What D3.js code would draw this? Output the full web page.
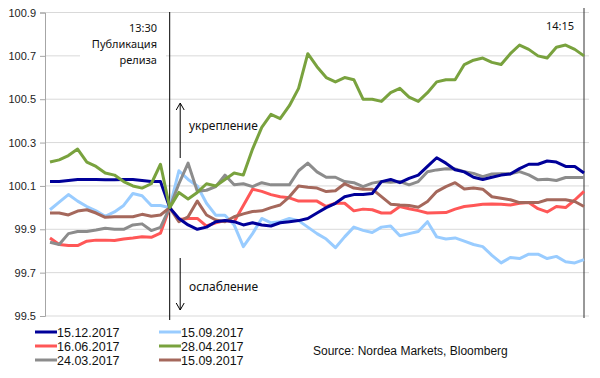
<!DOCTYPE html>
<html>
<head>
<meta charset="utf-8">
<script src="https://cdn.jsdelivr.net/npm/d3@7"></script>
<style>
  body { margin: 0; background: #fff; }
  svg { display: block; }
  .tick text { font-family: "Liberation Sans", Arial, sans-serif; font-size: 11px; fill: #222; }
  .note { font-family: "Noto Sans", sans-serif; font-size: 11px; fill: #111; }
  .legend text { font-family: "Liberation Sans", Arial, sans-serif; font-size: 12.5px; fill: #111; }
</style>
</head>
<body>
<div id="chart"></div>
<script>
// minutes relative to the 13:30 release (13:17 ... 14:15)
const minutes = d3.range(-13, 46);

const dec2017 = [100.12, 100.12, 100.125, 100.13, 100.13, 100.13, 100.128, 100.128, 100.13, 100.13, 100.125, 100.12, 100.12,
  100.00, 99.95, 99.92, 99.90, 99.91, 99.935, 99.94, 99.935, 99.92, 99.93, 99.92, 99.915, 99.93, 99.935, 99.94, 99.95,
  99.975, 100.00, 100.02, 100.05, 100.06, 100.06, 100.065, 100.12, 100.13, 100.115, 100.135, 100.15, 100.19, 100.23,
  100.205, 100.175, 100.165, 100.14, 100.13, 100.14, 100.15, 100.155, 100.18, 100.20, 100.20, 100.215, 100.21, 100.19,
  100.19, 100.16];

const sep2017a = [99.99, 100.025, 100.06, 100.03, 100.005, 99.985, 99.96, 99.98, 100.01, 100.065, 100.055, 100.01, 100.01,
  100.00, 100.17, 100.13, 100.10, 100.02, 99.965, 99.965, 99.92, 99.82, 99.88, 99.95, 99.93, 99.935, 99.95, 99.94, 99.91,
  99.88, 99.855, 99.815, 99.865, 99.91, 99.895, 99.885, 99.91, 99.915, 99.87, 99.88, 99.89, 99.935, 99.865, 99.855, 99.86,
  99.845, 99.83, 99.82, 99.78, 99.745, 99.77, 99.765, 99.785, 99.785, 99.765, 99.775, 99.75, 99.745, 99.76];

const jun2017 = [99.86, 99.83, 99.825, 99.825, 99.845, 99.85, 99.85, 99.848, 99.855, 99.86, 99.866, 99.863, 99.882,
  100.00, 99.945, 99.95, 99.95, 99.915, 99.93, 99.94, 99.935, 100.01, 100.085, 100.075, 100.06, 100.05, 100.045, 100.03,
  100.03, 100.03, 100.005, 100.02, 100.02, 99.985, 99.993, 99.99, 99.975, 99.975, 100.005, 99.995, 99.986, 99.975, 99.976,
  99.977, 99.993, 100.005, 100.01, 100.015, 100.017, 100.015, 100.012, 100.02, 100.023, 99.995, 99.98, 100.005, 100.0,
  100.035, 100.075];

const apr2017 = [100.21, 100.22, 100.24, 100.27, 100.21, 100.19, 100.16, 100.15, 100.12, 100.10, 100.09, 100.11, 100.20,
  100.00, 100.07, 100.04, 100.07, 100.11, 100.10, 100.13, 100.16, 100.15, 100.27, 100.37, 100.43, 100.41, 100.47, 100.55,
  100.71, 100.65, 100.60, 100.58, 100.60, 100.59, 100.50, 100.50, 100.49, 100.53, 100.55, 100.51, 100.49, 100.53, 100.58,
  100.59, 100.59, 100.66, 100.68, 100.69, 100.67, 100.66, 100.71, 100.75, 100.73, 100.70, 100.69, 100.74, 100.75, 100.73,
  100.70];

const mar2017 = [99.84, 99.83, 99.88, 99.89, 99.89, 99.897, 99.905, 99.90, 99.90, 99.92, 99.925, 99.894, 99.909,
  100.0, 100.11, 100.205, 100.075, 100.08, 100.097, 100.15, 100.105, 100.11, 100.097, 100.115, 100.105, 100.105, 100.105,
  100.17, 100.205, 100.165, 100.14, 100.14, 100.12, 100.115, 100.097, 100.113, 100.12, 100.117, 100.12, 100.105, 100.12,
  100.165, 100.174, 100.179, 100.178, 100.166, 100.158, 100.143, 100.155, 100.156, 100.156, 100.166, 100.151, 100.128,
  100.131, 100.125, 100.139, 100.139, 100.139];

const sep2017b = [99.975, 99.975, 99.966, 99.984, 99.99, 99.975, 99.955, 99.958, 99.958, 99.958, 99.969, 99.96, 99.966,
  100.0, 99.935, 99.958, 100.03, 99.966, 99.943, 99.935, 99.958, 99.971, 99.982, 99.985, 100.0, 100.012, 100.05, 100.10,
  100.094, 100.09, 100.074, 100.078, 100.11, 100.09, 100.085, 100.085, 100.051, 100.016, 100.012, 100.01, 100.002, 100.028,
  100.074, 100.097, 100.115, 100.086, 100.09, 100.085, 100.05, 100.043, 100.036, 100.023, 100.023, 100.023, 100.036,
  100.036, 100.036, 100.028, 100.005];

const yTicks = [99.5, 99.7, 99.9, 100.1, 100.3, 100.5, 100.7, 100.9];

const series = [
  { name: "15.09.2017", values: sep2017a, color: "#99ccff", col: 1, row: 0 },
  { name: "16.06.2017", values: jun2017, color: "#ff5757", col: 0, row: 1 },
  { name: "24.03.2017", values: mar2017, color: "#8c8c8c", col: 0, row: 2 },
  { name: "15.09.2017", values: sep2017b, color: "#a5685c", col: 1, row: 2 },
  { name: "15.12.2017", values: dec2017, color: "#000099", col: 0, row: 0 },
  { name: "28.04.2017", values: apr2017, color: "#79a23e", col: 1, row: 1 }
];

const W = 600, H = 378;
const svg = d3.select("#chart").append("svg")
  .attr("width", W)
  .attr("height", H);

const x = d3.scaleLinear().domain([-13, 45]).range([50, 584]);
const y = d3.scaleLinear().domain([99.5, 100.9]).range([316, 12.5]);

// gridlines
svg.append("g")
  .selectAll("line")
  .data(yTicks)
  .join("line")
  .attr("x1", 45).attr("x2", 589)
  .attr("y1", d => y(d)).attr("y2", d => y(d))
  .attr("stroke", "#d9d9d9")
  .attr("stroke-width", 1);

// y axis
const yAxis = svg.append("g")
  .attr("transform", "translate(45,0)")
  .call(d3.axisLeft(y).tickValues(yTicks).tickSize(5).tickPadding(4).tickFormat(d3.format(".1f")));
yAxis.select(".domain").attr("stroke", "#a6a6a6");
yAxis.selectAll(".tick line").attr("stroke", "#a6a6a6");

// white box behind the release note
svg.append("rect")
  .attr("x", 80).attr("y", 16).attr("width", 86).attr("height", 54)
  .attr("fill", "#fff");

// vertical markers
svg.append("line")
  .attr("x1", x(0)).attr("x2", x(0))
  .attr("y1", 12).attr("y2", 320)
  .attr("stroke", "#000").attr("stroke-width", 1);
svg.append("line")
  .attr("x1", x(45)).attr("x2", x(45))
  .attr("y1", 8).attr("y2", 318)
  .attr("stroke", "#333").attr("stroke-width", 1);

// lines
const line = d3.line()
  .x((d, i) => x(minutes[i]))
  .y(d => y(d));

svg.append("g")
  .selectAll("path")
  .data(series)
  .join("path")
  .attr("d", d => line(d.values))
  .attr("fill", "none")
  .attr("stroke", d => d.color)
  .attr("stroke-width", 3)
  .attr("stroke-linejoin", "round");

// annotations
const note = svg.append("text").attr("class", "note").attr("text-anchor", "end");
note.append("tspan").attr("x", 157).attr("y", 32).text("13:30");
note.append("tspan").attr("x", 157).attr("y", 48).text("Публикация");
note.append("tspan").attr("x", 157).attr("y", 64).text("релиза");

svg.append("text").attr("class", "note")
  .attr("x", 574).attr("y", 30).attr("text-anchor", "end")
  .text("14:15");

// arrows
const ax = x(0) + 10.5;
svg.append("line").attr("x1", ax).attr("x2", ax).attr("y1", 158).attr("y2", 104)
  .attr("stroke", "#000").attr("stroke-width", 1);
svg.append("path").attr("d", `M${ax - 4},${110} L${ax},${103} L${ax + 4},${110}`)
  .attr("fill", "none").attr("stroke", "#000");
svg.append("line").attr("x1", ax).attr("x2", ax).attr("y1", 258).attr("y2", 310)
  .attr("stroke", "#000").attr("stroke-width", 1);
svg.append("path").attr("d", `M${ax - 4},${303} L${ax},${310} L${ax + 4},${303}`)
  .attr("fill", "none").attr("stroke", "#000");

svg.append("text").attr("class", "note").style("font-size", "12px")
  .attr("x", 189).attr("y", 130).text("укрепление");
svg.append("text").attr("class", "note").style("font-size", "12px")
  .attr("x", 189).attr("y", 291).text("ослабление");

// legend
const legend = svg.append("g").attr("class", "legend");
const lg = legend.selectAll("g")
  .data(series)
  .join("g")
  .attr("transform", d => `translate(${d.col ? 159 : 35},${332 + d.row * 14})`);
lg.append("line")
  .attr("x1", 0).attr("x2", 22)
  .attr("stroke", d => d.color)
  .attr("stroke-width", 3);
lg.append("text")
  .attr("x", 22).attr("y", 4.5)
  .text(d => d.name);

svg.append("text")
  .attr("x", 313).attr("y", 355)
  .style("font-family", "'Liberation Sans', Arial, sans-serif")
  .style("font-size", "12px")
  .attr("fill", "#111")
  .text("Source: Nordea Markets, Bloomberg");
</script>
</body>
</html>
